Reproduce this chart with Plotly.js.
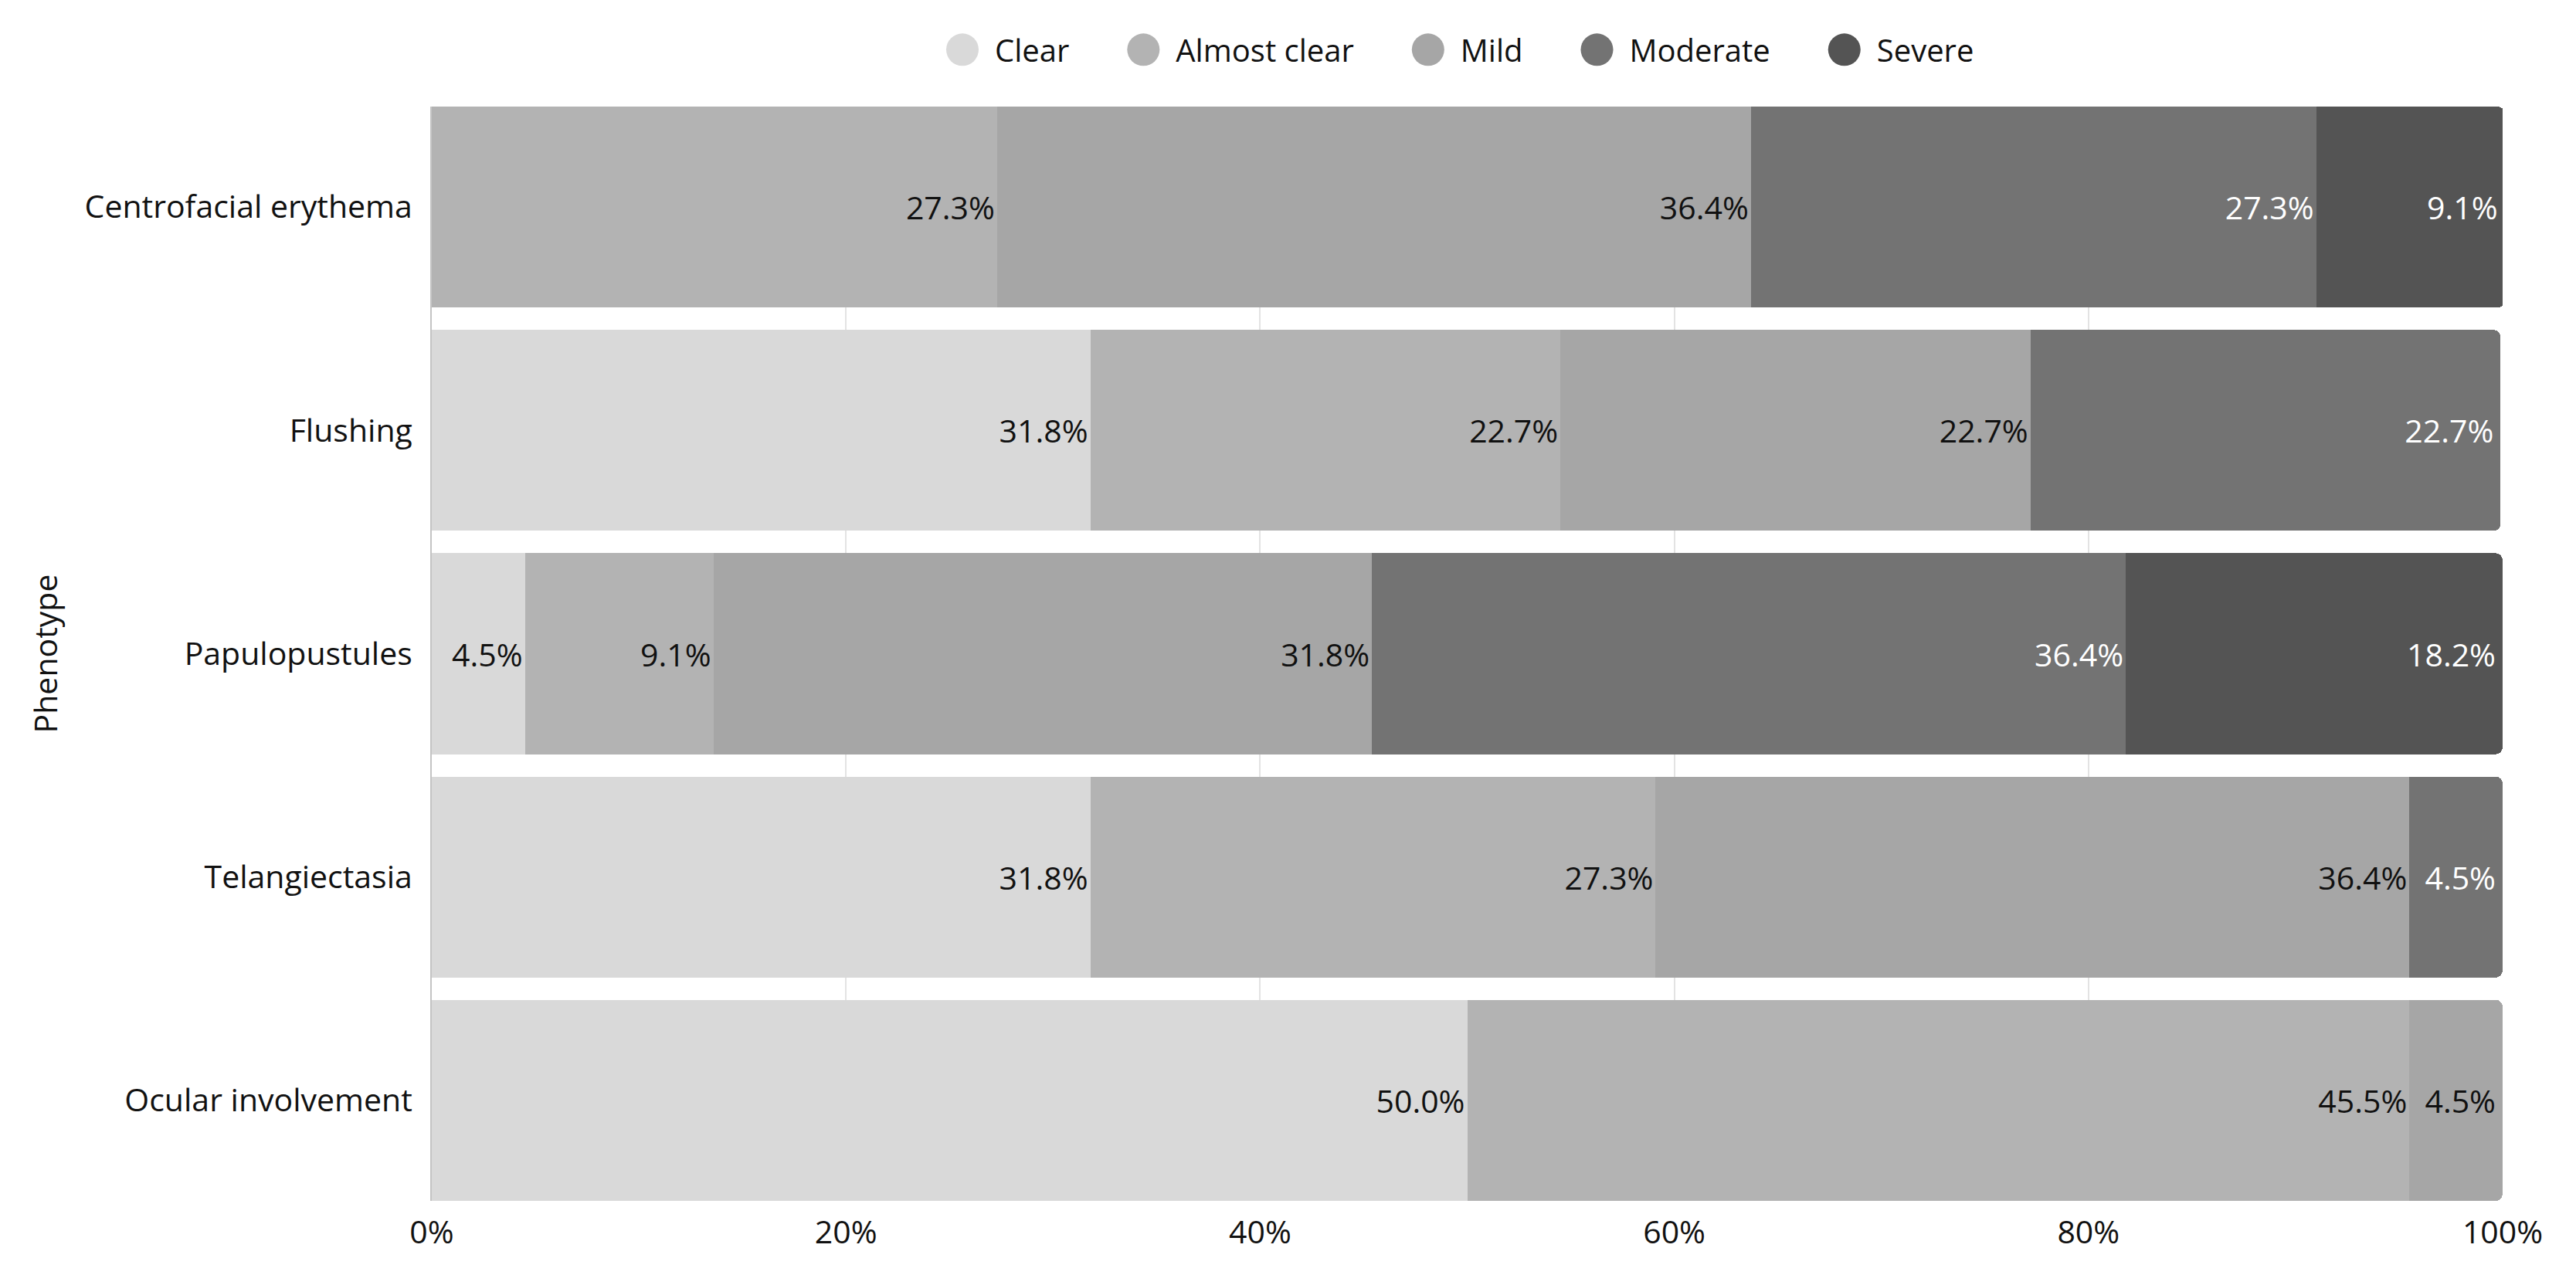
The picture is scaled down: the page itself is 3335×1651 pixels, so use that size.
<!DOCTYPE html>
<html>
<head>
<meta charset="utf-8">
<script src="https://cdn.plot.ly/plotly-3.0.1.min.js"></script>
<style>html,body{margin:0;padding:0;background:#fff;}#chart{width:3335px;height:1651px;}</style>
</head>
<body>
<div id="chart"></div>
<script>
// Categories (top to bottom)
const phenotypes = ["Centrofacial erythema", "Flushing", "Papulopustules", "Telangiectasia", "Ocular involvement"];
// Severity levels
const severities = ["Clear", "Almost clear", "Mild", "Moderate", "Severe"];
// Percent of patients per severity level, one array per level (order follows phenotypes)
const clearPct       = [0,    31.8, 4.5,  31.8, 50.0];
const almostClearPct = [27.3, 22.7, 9.1,  27.3, 45.5];
const mildPct        = [36.4, 22.7, 31.8, 36.4, 4.5];
const moderatePct    = [27.3, 22.7, 36.4, 4.5,  0];
const severePct      = [9.1,  0,    18.2, 0,    0];
// X axis ticks
const xTickVals = [0, 20, 40, 60, 80, 100];
const xTickText = ["0%", "20%", "40%", "60%", "80%", "100%"];

const seriesValues = [clearPct, almostClearPct, mildPct, moderatePct, severePct];
const colors = ["#d9d9d9", "#b3b3b3", "#a6a6a6", "#737373", "#545454"];
const textColors = ["#111111", "#111111", "#111111", "#ffffff", "#ffffff"];
const FONT = "'Open Sans', 'Noto Sans', sans-serif";
const FS = 41;

const traces = severities.map((name, i) => ({
  type: "bar",
  orientation: "h",
  name: name,
  y: phenotypes,
  x: seriesValues[i].map(v => (v === 0 ? null : v)),
  marker: { color: colors[i], line: { width: 0 } },
  text: seriesValues[i].map(v => (v === 0 ? "" : v.toFixed(1) + "%")),
  texttemplate: "%{text}",
  textposition: "inside",
  insidetextanchor: "end",
  constraintext: "none",
  textfont: { family: FONT, size: FS, color: textColors[i] },
  hoverinfo: "name+x"
}));

const layout = {
  width: 3335,
  height: 1651,
  paper_bgcolor: "#ffffff",
  plot_bgcolor: "#ffffff",
  barmode: "stack",
  bargap: 0.1,
  barcornerradius: 9,
  font: { family: FONT, size: FS, color: "#111111" },
  margin: { l: 559, r: 95, t: 138, b: 96, pad: 0 },
  showlegend: true,
  legend: {
    orientation: "h",
    x: 0.5, xanchor: "center", xref: "paper",
    y: 1.052, yanchor: "middle",
    traceorder: "normal",
    font: { family: FONT, size: 40, color: "#111111" },
    itemclick: false, itemdoubleclick: false
  },
  xaxis: {
    range: [0, 100],
    tickvals: xTickVals,
    ticktext: xTickText,
    showgrid: true,
    gridcolor: "#e3e3e3",
    gridwidth: 2,
    zeroline: false,
    showline: false,
    ticks: "",
    ticklabelstandoff: 13,
    tickfont: { family: FONT, size: FS, color: "#111111" },
    fixedrange: true
  },
  yaxis: {
    type: "category",
    categoryorder: "array",
    categoryarray: phenotypes,
    range: [4.45, -0.45],
    showgrid: false,
    zeroline: false,
    showline: true,
    linecolor: "#c4c4c4",
    linewidth: 2,
    ticks: "",
    ticklabelstandoff: 15,
    tickfont: { family: FONT, size: FS, color: "#111111" },
    title: { text: "Phenotype", font: { family: FONT, size: FS, color: "#111111" }, standoff: 22 },
    fixedrange: true
  }
};

Plotly.newPlot("chart", traces, layout, { displayModeBar: false }).then(function (gd) {
  // Legend styling: large circular symbols and wider spacing between entries
  const r = 21;
  const circle = "M" + r + ",0A" + r + "," + r + " 0 1,1 0,-" + r + "A" + r + "," + r + " 0 0,1 " + r + ",0Z";
  gd.querySelectorAll(".legend [clip-path]").forEach(function (el) { el.removeAttribute("clip-path"); });
  const items = Array.from(gd.querySelectorAll(".legend .traces"));
  if (!items.length) return;
  const parentCTM = items[0].parentNode.getScreenCTM();
  const firstDotCenter = 1246;      // page x of first symbol centre
  const dotToText = 42;             // symbol centre to label start
  const textToNextDot = 96;         // label end to next symbol centre
  let dotX = firstDotCenter;
  items.forEach(function (g) {
    const txt = g.querySelector("text.legendtext");
    const tx = parseFloat(txt.getAttribute("x")) || 40;
    const m = /translate\(\s*([-\d.e]+)[ ,]+([-\d.e]+)/.exec(g.getAttribute("transform") || "");
    const gy = m ? parseFloat(m[2]) : 0;
    const originLocal = (dotX + dotToText - tx) - parentCTM.e;
    g.setAttribute("transform", "translate(" + originLocal + "," + gy + ")");
    g.querySelectorAll(".legendpoints path").forEach(function (p) {
      p.setAttribute("d", circle);
      p.setAttribute("transform", "translate(" + (tx - dotToText) + ",0)");
      p.style.strokeWidth = "0px";
    });
    const w = txt.getComputedTextLength();
    dotX = dotX + dotToText + w + textToNextDot;
  });
});
</script>
</body>
</html>
